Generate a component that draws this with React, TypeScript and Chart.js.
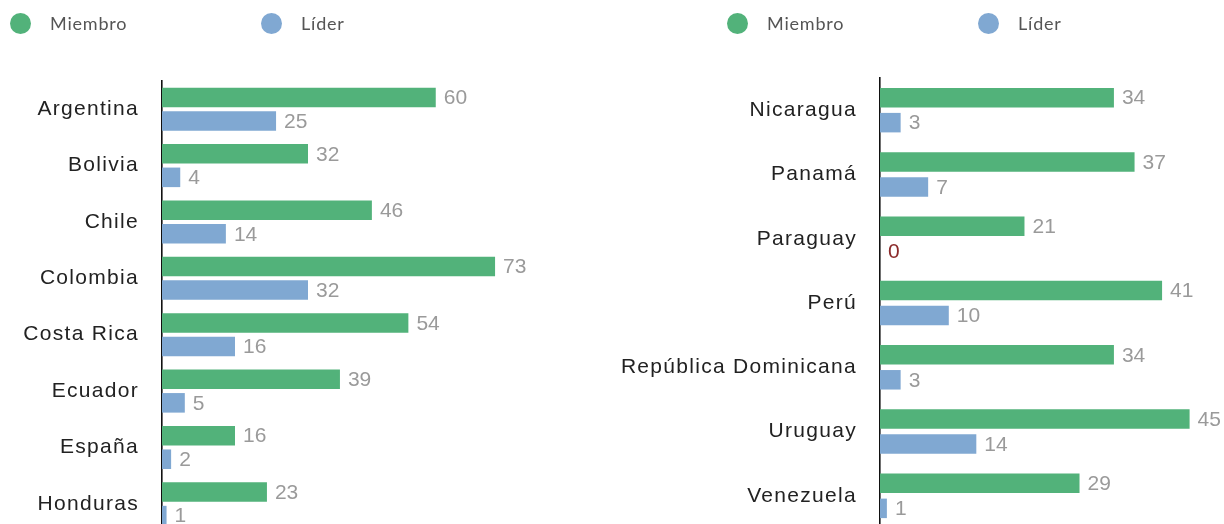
import React, { useEffect, useRef } from "react";
import { Chart, registerables } from "chart.js";

Chart.register(...registerables);

const leftCategories = ["Argentina", "Bolivia", "Chile", "Colombia", "Costa Rica", "Ecuador", "España", "Honduras"];
const leftMiembro = [60, 32, 46, 73, 54, 39, 16, 23];
const leftLider = [25, 4, 14, 32, 16, 5, 2, 1];

const rightCategories = ["Nicaragua", "Panamá", "Paraguay", "Perú", "República Dominicana", "Uruguay", "Venezuela"];
const rightMiembro = [34, 37, 21, 41, 34, 45, 29];
const rightLider = [3, 7, 0, 10, 3, 14, 1];

const seriesNames = ["Miembro", "Líder"];
const seriesColors = ["#52b27a", "#80a8d2"];

const spacingPlugin = {
  id: "labelSpacing",
  beforeLayout(chart: any) {
    (chart.ctx as any).letterSpacing = "1.3px";
  },
  beforeDraw(chart: any) {
    (chart.ctx as any).letterSpacing = "1.3px";
  },
};

const valueLabelPlugin = {
  id: "valueLabels",
  afterDatasetsDraw(chart: any) {
    const ctx = chart.ctx;
    ctx.save();
    (ctx as any).letterSpacing = "0px";
    ctx.font = '21px "Liberation Sans", Arial, sans-serif';
    ctx.textAlign = "left";
    ctx.textBaseline = "middle";
    chart.data.datasets.forEach((ds: any, di: number) => {
      const meta = chart.getDatasetMeta(di);
      meta.data.forEach((el: any, i: number) => {
        const v = ds.data[i];
        ctx.fillStyle = v === 0 ? "#8b2a2a" : "#9a9a9a";
        ctx.fillText(String(v), el.x + 8, el.y + 1);
      });
    });
    ctx.restore();
  },
};

function BarPanel(props: {
  categories: string[];
  miembro: number[];
  lider: number[];
  xMax: number;
  axisWidth: number;
  padTop: number;
  padBottom: number;
  padRight: number;
  catPct: number;
  barPct: number;
  width: number;
  left: number;
}) {
  const ref = useRef<HTMLCanvasElement>(null);
  useEffect(() => {
    if (!ref.current) return;
    const chart = new Chart(ref.current, {
      type: "bar",
      data: {
        labels: props.categories,
        datasets: [
          {
            label: seriesNames[0],
            data: props.miembro,
            backgroundColor: seriesColors[0],
            categoryPercentage: props.catPct,
            barPercentage: props.barPct,
          },
          {
            label: seriesNames[1],
            data: props.lider,
            backgroundColor: seriesColors[1],
            categoryPercentage: props.catPct,
            barPercentage: props.barPct,
          },
        ],
      },
      options: {
        indexAxis: "y",
        animation: false,
        responsive: true,
        maintainAspectRatio: false,
        layout: { padding: { top: props.padTop, right: props.padRight, bottom: props.padBottom, left: 0 } },
        plugins: { legend: { display: false }, tooltip: { enabled: false } },
        scales: {
          x: { display: false, min: 0, max: props.xMax },
          y: {
            grid: { display: false, drawTicks: false },
            border: { display: true, color: "#111", width: 1.6 },
            ticks: {
              padding: 23,
              color: "#222",
              font: { family: '"Liberation Sans", Arial, sans-serif', size: 21 },
            },
            afterFit: (s: any) => {
              s.width = props.axisWidth;
              s.paddingTop = 0;
              s.paddingBottom = 0;
            },
          },
        },
      },
      plugins: [spacingPlugin, valueLabelPlugin],
    });
    return () => chart.destroy();
  }, []);
  return (
    <div style={{ position: "absolute", left: props.left, top: 0, width: props.width, height: 560 }}>
      <canvas ref={ref} />
    </div>
  );
}

function Legend(props: { left: number }) {
  const item = (i: number, x: number) => (
    <div key={i} style={{ position: "absolute", left: x, top: 12, display: "flex", alignItems: "center" }}>
      <span
        style={{ width: 21, height: 21, borderRadius: "50%", background: seriesColors[i], display: "inline-block" }}
      />
      <span
        style={{
          marginLeft: 19,
          fontFamily: "Lato, 'Noto Sans', sans-serif",
          fontSize: 18,
          letterSpacing: "0.8px",
          color: "#555",
        }}
      >
        {seriesNames[i]}
      </span>
    </div>
  );
  return (
    <div style={{ position: "absolute", left: props.left, top: 0 }}>
      {item(0, 0)}
      {item(1, 251)}
    </div>
  );
}

export default function App() {
  return (
    <div
      style={{
        position: "absolute",
        left: 0,
        top: 0,
        width: 1224,
        height: 524,
        overflow: "hidden",
        background: "#fff",
      }}
    >
      <BarPanel
        categories={leftCategories}
        miembro={leftMiembro}
        lider={leftLider}
        xMax={80}
        axisWidth={162}
        padTop={81}
        padBottom={28}
        padRight={73}
        catPct={0.836}
        barPct={0.83}
        width={600}
        left={0}
      />
      <BarPanel
        categories={rightCategories}
        miembro={rightMiembro}
        lider={rightLider}
        xMax={50}
        axisWidth={280}
        padTop={78}
        padBottom={32}
        padRight={0}
        catPct={0.778}
        barPct={0.78}
        width={624}
        left={600}
      />
      <Legend left={10} />
      <Legend left={727} />
    </div>
  );
}
